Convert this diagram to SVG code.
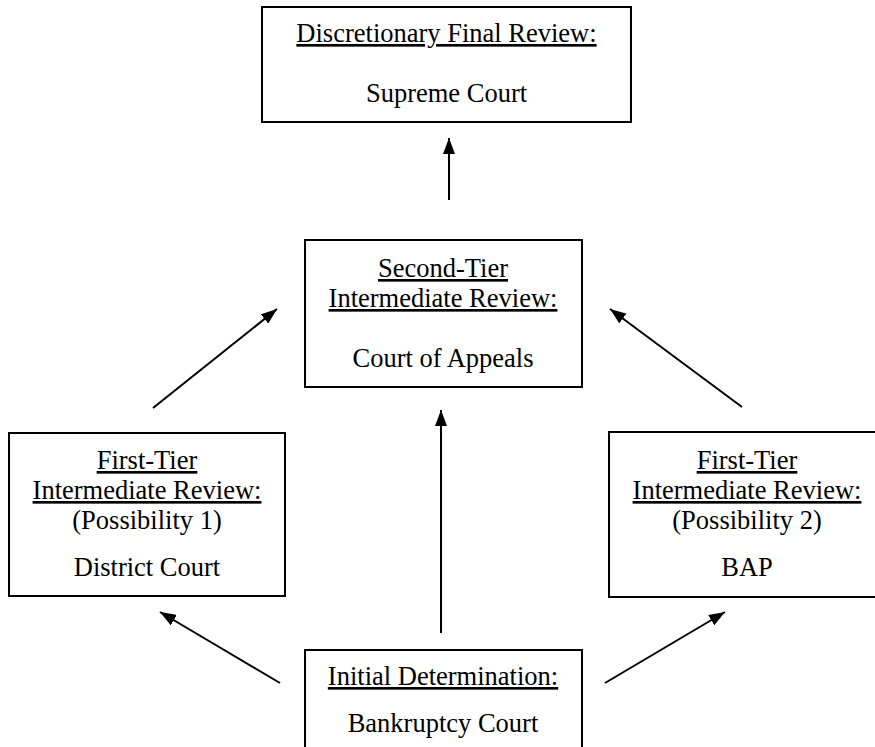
<svg xmlns="http://www.w3.org/2000/svg" width="875" height="747" viewBox="0 0 875 747">
<defs>
<marker id="ah" viewBox="0 0 16 12" refX="16" refY="6" markerWidth="16" markerHeight="12" markerUnits="userSpaceOnUse" orient="auto">
<path d="M0,0 L16,6 L0,12 Z" fill="#000"/>
</marker>
<style>
.box{fill:#fff;stroke:#000;stroke-width:2}
.t{font-family:"Liberation Serif","Times New Roman",serif;font-size:26.5px;fill:#000;text-anchor:middle}
.u{text-decoration:underline}
.c{stroke:#000;stroke-width:2;fill:none}
</style>
</defs>
<rect width="875" height="747" fill="#fff"/>
<g id="connectors">
<line class="c" x1="449" y1="200" x2="449" y2="138" marker-end="url(#ah)"/>
<line class="c" x1="153" y1="408" x2="277" y2="309" marker-end="url(#ah)"/>
<line class="c" x1="742" y1="407" x2="610" y2="309" marker-end="url(#ah)"/>
<line class="c" x1="441" y1="633" x2="441" y2="410" marker-end="url(#ah)"/>
<line class="c" x1="280" y1="683" x2="160" y2="612" marker-end="url(#ah)"/>
<line class="c" x1="605" y1="683" x2="725" y2="612" marker-end="url(#ah)"/>
</g>
<g id="supreme">
<rect class="box" x="262" y="7" width="369" height="115"/>
<text class="t u" x="446.5" y="42">Discretionary Final Review:</text>
<text class="t" x="446.5" y="102">Supreme Court</text>
</g>
<g id="appeals">
<rect class="box" x="305" y="240" width="277" height="147"/>
<text class="t u" x="443" y="277">Second-Tier</text>
<text class="t u" x="443" y="307">Intermediate Review:</text>
<text class="t" x="443" y="367">Court of Appeals</text>
</g>
<g id="district">
<rect class="box" x="9" y="433" width="276" height="163"/>
<text class="t u" x="147" y="469">First-Tier</text>
<text class="t u" x="147" y="499">Intermediate Review:</text>
<text class="t" x="147" y="529">(Possibility 1)</text>
<text class="t" x="147" y="576">District Court</text>
</g>
<g id="bap">
<rect class="box" x="609" y="432" width="276" height="165"/>
<text class="t u" x="747" y="469">First-Tier</text>
<text class="t u" x="747" y="499">Intermediate Review:</text>
<text class="t" x="747" y="529">(Possibility 2)</text>
<text class="t" x="747" y="576">BAP</text>
</g>
<g id="bankruptcy">
<rect class="box" x="305" y="650" width="277" height="110"/>
<text class="t u" x="443" y="685">Initial Determination:</text>
<text class="t" x="443" y="732">Bankruptcy Court</text>
</g>
</svg>
